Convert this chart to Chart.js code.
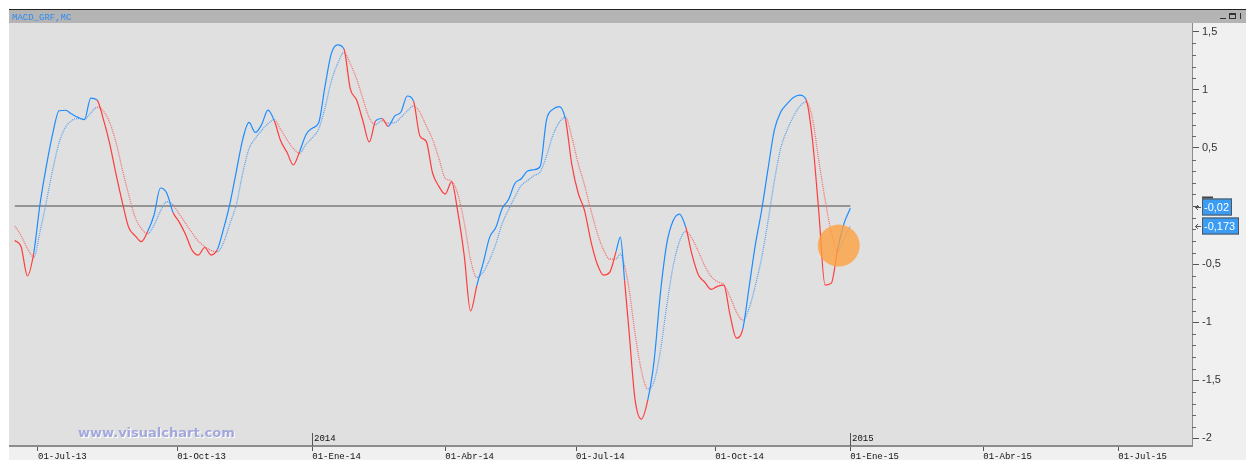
<!DOCTYPE html>
<html>
<head>
<meta charset="utf-8">
<title>MACD_GRF,MC</title>
<script src="https://cdn.jsdelivr.net/npm/chart.js@4.4.0/dist/chart.umd.min.js"></script>
<style>
  html, body { margin: 0; padding: 0; background: #fff; }
  #wrap { width: 1246px; height: 460px; }
</style>
</head>
<body>
<div id="wrap"><canvas id="chart" width="1246" height="460"></canvas></div>
<script>
// trading-day index, 0 = 01-Jul-13
var days = [-11, -8, -5, -2, 1, 4, 7, 10, 13, 16, 19, 22, 25, 28, 31, 34, 37, 40, 43, 46,
    49, 52, 55, 58, 61, 64, 67, 70, 73, 76, 79, 82, 85, 88, 91, 94, 97, 100, 103, 106,
    109, 112, 115, 118, 121, 124, 127, 130, 133, 136, 139, 142, 145, 148, 151, 154, 157, 160, 163, 166,
    169, 172, 175, 178, 181, 184, 187, 190, 193, 196, 199, 202, 205, 208, 211, 214, 217, 220, 223, 226,
    229, 232, 235, 238, 241, 244, 247, 250, 253, 256, 259, 262, 265, 268, 271, 274, 276, 278, 280, 283,
    286, 289, 292, 295, 298, 301, 304, 307, 310, 313, 316, 319, 322, 325, 328, 331, 334, 337, 340, 343,
    346, 349, 352, 355, 358, 361, 364, 367, 370, 373, 376, 379, 382, 385];

var macd = [-0.297, -0.350, -0.602, -0.402, 0.022, 0.348, 0.625, 0.820, 0.824, 0.792, 0.763, 0.744, 0.929, 0.912, 0.745, 0.535, 0.272, 0.030, -0.185, -0.255,
    -0.306, -0.218, -0.077, 0.155, 0.112, -0.055, -0.141, -0.247, -0.379, -0.422, -0.357, -0.422, -0.375, -0.193, 0.023, 0.299, 0.572, 0.719, 0.633, 0.701,
    0.826, 0.734, 0.561, 0.462, 0.353, 0.470, 0.614, 0.670, 0.716, 1.027, 1.311, 1.386, 1.351, 1.009, 0.912, 0.732, 0.551, 0.732, 0.753, 0.686,
    0.774, 0.809, 0.947, 0.901, 0.602, 0.556, 0.284, 0.169, 0.103, 0.207, -0.057, -0.426, -0.904, -0.682, -0.489, -0.272, -0.183, -0.021, 0.056, 0.194,
    0.235, 0.301, 0.312, 0.341, 0.742, 0.832, 0.856, 0.746, 0.356, 0.112, -0.037, -0.299, -0.497, -0.594, -0.568, -0.390, -0.267, -0.642, -1.054, -1.670,
    -1.833, -1.669, -1.330, -0.747, -0.324, -0.127, -0.069, -0.183, -0.421, -0.594, -0.656, -0.718, -0.691, -0.680, -0.939, -1.136, -1.059, -0.699, -0.330, -0.032,
    0.322, 0.656, 0.809, 0.879, 0.934, 0.955, 0.917, 0.577, -0.038, -0.680, -0.663, -0.370, -0.150, -0.020];

var signal = [-0.172, -0.255, -0.365, -0.439, -0.217, 0.041, 0.315, 0.545, 0.676, 0.736, 0.753, 0.747, 0.801, 0.850, 0.818, 0.717, 0.546, 0.313, 0.096, -0.094,
    -0.193, -0.238, -0.164, -0.044, 0.037, 0.009, -0.070, -0.151, -0.230, -0.303, -0.348, -0.382, -0.394, -0.311, -0.149, 0.013, 0.281, 0.493, 0.582, 0.651,
    0.709, 0.742, 0.660, 0.571, 0.496, 0.454, 0.531, 0.588, 0.663, 0.844, 1.072, 1.225, 1.322, 1.225, 1.093, 0.923, 0.758, 0.701, 0.733, 0.714,
    0.717, 0.762, 0.818, 0.861, 0.805, 0.690, 0.573, 0.410, 0.238, 0.215, 0.102, -0.142, -0.460, -0.616, -0.568, -0.465, -0.325, -0.151, -0.032, 0.078,
    0.175, 0.219, 0.262, 0.294, 0.430, 0.607, 0.719, 0.762, 0.594, 0.367, 0.181, -0.032, -0.229, -0.375, -0.458, -0.455, -0.413, -0.515, -0.700, -1.101,
    -1.419, -1.575, -1.511, -1.244, -0.855, -0.519, -0.306, -0.219, -0.281, -0.392, -0.515, -0.605, -0.651, -0.676, -0.782, -0.911, -0.981, -0.881, -0.682, -0.442,
    -0.127, 0.218, 0.499, 0.652, 0.769, 0.857, 0.895, 0.757, 0.398, 0.058, -0.226, -0.390, -0.281, -0.173];

var tickDays = [0, 66, 130, 193, 255, 321, 385, 448, 512];
var tickLabels = ['01-Jul-13', '01-Oct-13', '01-Ene-14', '01-Abr-14', '01-Jul-14', '01-Oct-14', '01-Ene-15', '01-Abr-15', '01-Jul-15'];
var yearDays = [130, 385];
var yearLabels = ['2014', '2015'];
var yTicks = [1.5, 1, 0.5, 0, -0.5, -1, -1.5, -2];
var highlight = [{ x: 379.5, y: -0.34 }];

var BLUE = 'rgb(30,140,255)';
var RED = 'rgb(255,60,60)';
var BLUE_DOT = 'rgb(90,160,240)';
var RED_DOT = 'rgb(245,110,110)';

function points(vals) {
    return days.map(function (d, i) { return { x: d, y: vals[i] }; });
}

// blue while MACD is above its signal, red otherwise
function trendColor(up, down) {
    return function (ctx) {
        var a = ctx.p0DataIndex, b = ctx.p1DataIndex;
        var d = (macd[a] - signal[a]) + (macd[b] - signal[b]);
        return d >= 0 ? up : down;
    };
}

function comma(v) {
    return String(v).replace('.', ',');
}

// keep the axes from pushing the plot area around
function noPadding(s) {
    s.paddingLeft = 0;
    s.paddingRight = 0;
    s.paddingTop = 0;
    s.paddingBottom = 0;
}

var frame = {
    id: 'frame',
    beforeDraw: function (chart) {
        var c = chart.ctx, a = chart.chartArea;
        c.save();
        c.fillStyle = '#ffffff';
        c.fillRect(0, 0, chart.width, chart.height);
        c.fillStyle = '#222';
        c.fillRect(9, 9, chart.width - 9, 1);
        c.fillStyle = '#b4b4b4';
        c.fillRect(9, 10, chart.width - 9, 13);
        c.fillStyle = '#e0e0e0';
        c.fillRect(9, a.top, a.right - 9, a.bottom - a.top);
        c.fillStyle = '#f0f0f0';
        c.fillRect(a.right, a.top, chart.width - a.right, chart.height - a.top);
        c.fillRect(9, a.bottom, a.right - 9, chart.height - a.bottom);

        // title
        c.font = '9px "Liberation Mono"';
        c.fillStyle = '#2a8cf5';
        c.textBaseline = 'alphabetic';
        c.fillText('MACD_GRF,MC', 12, 19.5);

        // window buttons
        c.fillStyle = '#333';
        c.fillRect(1220, 18, 6, 1);
        c.strokeStyle = '#333';
        c.lineWidth = 1;
        c.strokeRect(1229.5, 13.5, 6, 5);
        c.fillRect(1229, 13, 7, 2);
        c.fillRect(1240, 13, 1, 6);
        c.restore();
    },
    beforeDatasetsDraw: function (chart) {
        var c = chart.ctx;
        c.save();
        c.font = 'bold 13px "DejaVu Sans"';
        c.textBaseline = 'alphabetic';
        c.fillStyle = '#ffffff';
        c.fillText('www.visualchart.com', 79, 438);
        c.fillStyle = '#a3a8dc';
        c.fillText('www.visualchart.com', 78, 437);
        c.restore();
    },
    afterDraw: function (chart) {
        var c = chart.ctx, a = chart.chartArea;
        var xs = chart.scales.x, ys = chart.scales.y;
        c.save();

        // minor ticks on the value axis
        c.fillStyle = '#666';
        for (var k = -20; k <= 15; k++) {
            if (k % 5 === 0) continue;
            var py = Math.round(ys.getPixelForValue(k / 10));
            c.fillRect(a.right, py, 4, 1);
        }

        // year marks
        c.font = '9px "Liberation Mono"';
        c.textBaseline = 'alphabetic';
        for (var i = 0; i < yearDays.length; i++) {
            var px = Math.round(xs.getPixelForValue(yearDays[i]));
            c.fillStyle = '#555';
            c.fillRect(px, a.bottom - 13, 1, 13);
            c.fillStyle = '#111';
            c.fillText(yearLabels[i], px + 2, a.bottom - 5);
        }

        // last values
        var lastM = macd[macd.length - 1], lastS = signal[signal.length - 1];
        var boxes = [[lastM, 30], [lastS, 37]];
        c.font = '11px "Liberation Sans"';
        c.textBaseline = 'middle';
        boxes.forEach(function (b, j) {
            var cy = Math.round(ys.getPixelForValue(b[0])) - (j === 0 ? 1 : 0);
            var x0 = 1202, h = 17;
            c.fillStyle = '#3a9cf5';
            c.fillRect(x0, cy - h / 2, b[1], h);
            c.strokeStyle = '#555';
            c.lineWidth = 1;
            c.strokeRect(x0 + 0.5, cy - h / 2 + 0.5, b[1] - 1, h - 1);
            c.fillStyle = '#ffffff';
            c.fillText(comma(b[0]), x0 + 2, cy + 1);
            // arrow
            c.fillStyle = '#555';
            c.fillRect(1195, cy, 6, 1);
            c.fillRect(1196, cy - 1, 1, 3);
            c.fillRect(1197, cy - 2, 1, 1);
            c.fillRect(1197, cy + 2, 1, 1);
            if (j === 0) {
                c.fillStyle = '#444';
                c.fillRect(x0, cy - h / 2 - 2, 11, 2);
            }
        });
        c.restore();
    }
};

var ctx = document.getElementById('chart').getContext('2d');
var chart = new Chart(ctx, {
    type: 'line',
    data: {
        datasets: [{
            type: 'scatter',
            data: highlight,
            pointRadius: 21,
            pointBackgroundColor: 'rgba(255,160,60,0.78)',
            pointBorderWidth: 0,
            order: 0
        }, {
            label: 'MACD',
            data: points(macd),
            borderWidth: 1.2,
            pointRadius: 0,
            cubicInterpolationMode: 'monotone',
            borderColor: BLUE,
            segment: { borderColor: trendColor(BLUE, RED) },
            order: 1
        }, {
            label: 'Signal',
            data: points(signal),
            borderWidth: 1.3,
            borderDash: [1, 1],
            pointRadius: 0,
            cubicInterpolationMode: 'monotone',
            borderColor: BLUE_DOT,
            segment: { borderColor: trendColor(BLUE_DOT, RED_DOT) },
            order: 2
        }, {
            label: 'zero',
            data: [{ x: days[0], y: 0 }, { x: days[days.length - 1], y: 0 }],
            borderColor: '#7c7c7c',
            borderWidth: 1.5,
            pointRadius: 0,
            order: 3
        }]
    },
    options: {
        responsive: false,
        animation: false,
        events: [],
        layout: { autoPadding: false, padding: { top: 23, left: 10, right: 0, bottom: 0 } },
        plugins: { legend: { display: false }, tooltip: { enabled: false } },
        scales: {
            x: {
                type: 'linear',
                min: -13.27,
                max: 546.92,
                afterBuildTicks: function (s) { s.ticks = tickDays.map(function (v) { return { value: v }; }); },
                afterFit: function (s) { s.height = 14; noPadding(s); },
                ticks: {
                    autoSkip: false,
                    maxRotation: 0,
                    align: 'start',
                    padding: 0,
                    color: '#111',
                    font: { family: 'Liberation Mono', size: 9 },
                    callback: function (v, i) { return tickLabels[i]; }
                },
                grid: { drawOnChartArea: false, tickLength: 5, tickColor: '#555', tickWidth: 1 },
                border: { color: '#8c8c8c', width: 2 }
            },
            y: {
                position: 'right',
                min: -2.065,
                max: 1.575,
                afterBuildTicks: function (s) { s.ticks = yTicks.map(function (v) { return { value: v }; }); },
                afterFit: function (s) { s.width = 54; noPadding(s); },
                ticks: {
                    padding: 3,
                    color: '#333',
                    font: { family: 'Liberation Sans', size: 11 },
                    callback: function (v) { return comma(v); }
                },
                grid: { drawOnChartArea: false, tickLength: 7, tickColor: '#555' },
                border: { color: '#8c8c8c', width: 1 }
            }
        }
    },
    plugins: [frame]
});
</script>
</body>
</html>
